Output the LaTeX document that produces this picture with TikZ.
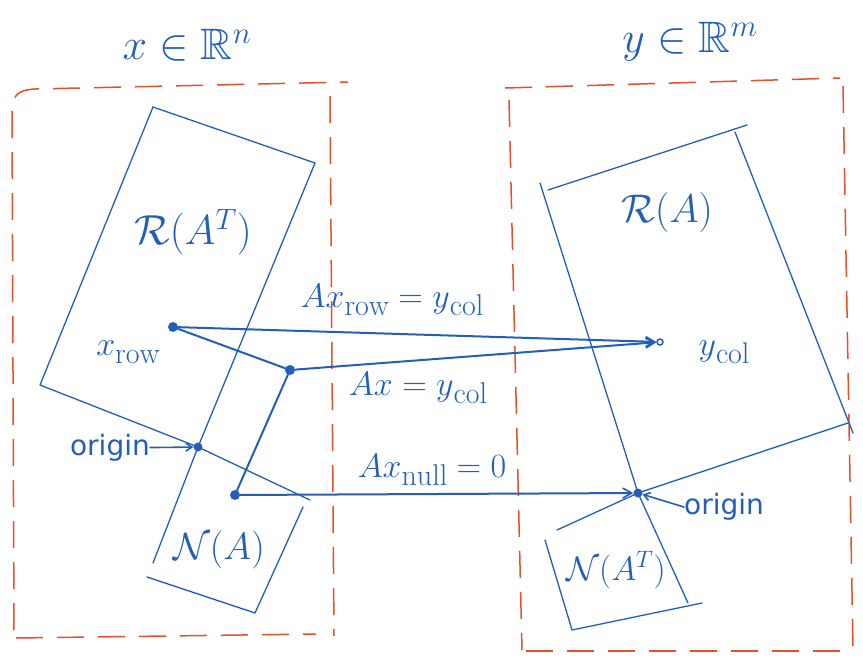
\RequirePackage{fix-cm}
\documentclass[tikz,border=0pt]{standalone}
\usepackage{amssymb}
\usepackage{fontspec}
\setsansfont{DejaVu Sans}
\usetikzlibrary{arrows.meta}
\newcommand\lsub[1]{\raisebox{-8pt}{\fontsize{30}{30}\selectfont$\mathrm{#1}$}}
\definecolor{pen}{RGB}{35,95,185}
\definecolor{redpen}{RGB}{232,78,40}
\tikzset{
  sub/.style={draw=pen, line width=1.3pt, line join=round, line cap=round},
  conn/.style={draw=pen, line width=2pt, line cap=round},
  arr/.style={conn, -{Straight Barb[length=9pt,width=10pt,line width=1.6pt]}},
  space/.style={draw=redpen, line width=1.5pt, dash pattern=on 27pt off 14pt},
  dot/.style={circle, fill=pen, inner sep=0pt, minimum size=10pt},
  odot/.style={circle, draw=pen, line width=1.5pt, fill=white, inner sep=0pt, minimum size=6pt},
  lbl/.style={text=pen, inner sep=0pt},
  big/.style={lbl, font=\fontsize{44}{44}\selectfont},
  subl/.style={lbl, font=\fontsize{42}{42}\selectfont},
  eq/.style={lbl, font=\fontsize{34}{34}\selectfont},
  org/.style={lbl, font=\sffamily\fontsize{28}{28}\selectfont},
}
\begin{document}
\begin{tikzpicture}[x=1pt,y=-1pt]
\useasboundingbox (0,0) rectangle (863,657);
% red dashed spaces
\draw[space] (14,630) -- (12,112) .. controls (12,95) and (18,90) .. (35,89) -- (348,82);
\draw[space] (330,96) -- (334,636);
\draw[space] (16,638) -- (316,634);
\draw[space] (505,88) -- (840,78);
\draw[space] (509,100) -- (522,650);
\draw[space] (843,86) -- (853,648);
\draw[space] (526,651) -- (850,651);
% titles
\node[big] (tx) at (187,45) {$x\in\mathbb{R}^n$};
\node[big] (ty) at (690,42) {$y\in\mathbb{R}^m$};
% key points
\node[dot] (xr) at (173,327) {};
\node[dot] (xx) at (290,370) {};
\node[dot] (xn) at (235,495) {};
\node[dot, minimum size=9pt] (lo) at (198,447) {};
\node[dot, minimum size=9pt] (ro) at (638,493) {};
\node[odot] (yc) at (660,342) {};
% left subspaces
\coordinate (a1) at (153,107);
\coordinate (a2) at (315,163);
\coordinate (a3) at (40,385);
\coordinate (n1) at (153,563);
\coordinate (n2) at (310,500);
\coordinate (n3) at (303,507);
\coordinate (n4) at (255,613);
\coordinate (n5) at (147,577);
\draw[sub] (a1) -- (a2) -- (lo.center) -- (n1);
\draw[sub] (a1) -- (a3) -- (lo.center) -- (n2);
\draw[sub] (n3) -- (n4) -- (n5);
% right subspaces
\coordinate (c1) at (540,183);
\coordinate (c0) at (548,190);
\coordinate (c5) at (747,125);
\coordinate (c2) at (735,132);
\coordinate (c3) at (853,433);
\coordinate (c4) at (848,423);
\coordinate (m1) at (688,603);
\coordinate (m2) at (557,530);
\coordinate (m3) at (545,540);
\coordinate (m4) at (572,630);
\coordinate (m5) at (702,603);
\draw[sub] (c0) -- (c5);
\draw[sub] (c1) -- (ro.center) -- (m1);
\draw[sub] (c2) -- (c3);
\draw[sub] (c4) -- (ro.center) -- (m2);
\draw[sub] (m3) -- (m4) -- (m5);
% subspace labels
\node[subl] (rat) at (193,232) {$\mathcal{R}(A^T)$};
\node[subl, font=\fontsize{40}{40}\selectfont] (ra) at (667,212) {$\mathcal{R}(A)$};
\node[subl, font=\fontsize{38}{38}\selectfont] (na) at (219,550) {$\mathcal{N}(A)$};
\node[subl, font=\fontsize{34}{34}\selectfont] (nat) at (616,570) {$\mathcal{N}(A^T)$};
% point labels
\node[eq] (lxr) at (128,352) {$x\lsub{row}$};
\node[eq] (lyc) at (724,352) {$y\lsub{col}$};
% connectors
\draw[conn] (xr) -- (xx);
\draw[conn] (xx) -- (xn);
\draw[arr] (xr) -- (yc);
\draw[arr] (xx) -- (yc);
\draw[arr] (xn) -- (ro);
% equation labels
\node[eq] (e1) at (392,300) {$Ax\lsub{row}=y\lsub{col}$};
\node[eq] (e2) at (418,388) {$Ax=y\lsub{col}$};
\node[eq] (e3) at (432,470) {$Ax\lsub{null}=0$};
% origin labels
\node[org, anchor=east] (o1) at (150,448) {origin};
\node[org, anchor=west] (o2) at (684,507) {origin};
\draw[conn, line width=1.6pt, -{Straight Barb[length=6pt,width=8pt]}] (o1) -- (lo);
\draw[conn, line width=1.6pt, -{Straight Barb[length=6pt,width=8pt]}] (o2.west) -- (ro);
\end{tikzpicture}
\end{document}
